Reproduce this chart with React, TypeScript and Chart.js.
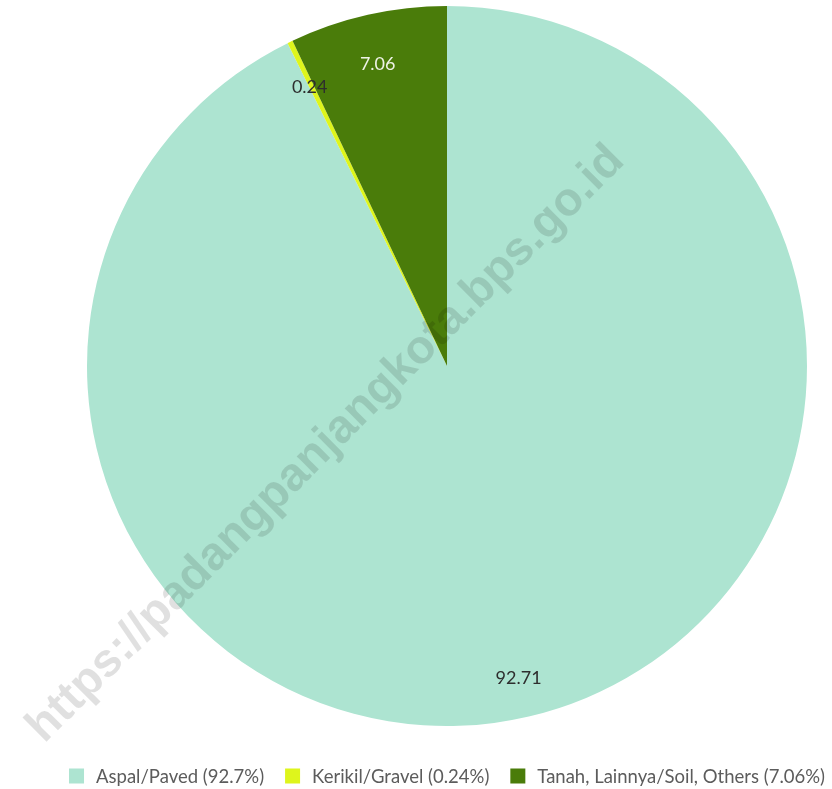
import React, { useEffect, useRef } from "react";
import { Chart, registerables } from "chart.js";

Chart.register(...registerables);

const categories = ["Aspal/Paved", "Kerikil/Gravel", "Tanah, Lainnya/Soil, Others"];
const values = [92.71, 0.24, 7.06];
const legendPercents = ["92.7%", "0.24%", "7.06%"];
const colors = ["#ade4d1", "#def51c", "#4a7c0a"];
const labelColors = ["#2e2e2e", "#2e2e2e", "#eef3e6"];
const watermarkText = "https://padangpanjangkota.bps.go.id";

const dataLabelPlugin = {
  id: "dataLabels",
  afterDatasetsDraw(chart: any) {
    const ctx = chart.ctx;
    const meta = chart.getDatasetMeta(0);
    ctx.save();
    ctx.font = "18px Lato";
    ctx.textAlign = "center";
    ctx.textBaseline = "middle";
    meta.data.forEach((arc: any, i: number) => {
      const mid = (arc.startAngle + arc.endAngle) / 2;
      const d = arc.outerRadius - 45;
      const x = arc.x + Math.cos(mid) * d;
      const y = arc.y + Math.sin(mid) * d + 5;
      ctx.fillStyle = labelColors[i];
      ctx.fillText(String(values[i]), x, y);
    });
    ctx.restore();
  },
};

const legendPlugin = {
  id: "customLegend",
  afterDraw(chart: any) {
    const ctx = chart.ctx;
    ctx.save();
    ctx.font = "18.5px Lato";
    ctx.textBaseline = "middle";
    const box = 15;
    const gapBox = 12;
    const gapItem = 21;
    const texts = categories.map((c, i) => `${c} (${legendPercents[i]})`);
    const widths = texts.map((t) => ctx.measureText(t).width);
    const total = widths.reduce((a, w) => a + box + gapBox + w, 0) + gapItem * (texts.length - 1);
    let x = 447 - total / 2;
    const y = 776;
    texts.forEach((t, i) => {
      ctx.fillStyle = colors[i];
      ctx.fillRect(x, y - box / 2, box, box);
      x += box + gapBox;
      ctx.fillStyle = "#5c5c5c";
      ctx.fillText(t, x, y + 1);
      x += widths[i] + gapItem;
    });
    ctx.restore();
  },
};

const watermarkPlugin = {
  id: "watermark",
  afterDraw(chart: any) {
    const ctx = chart.ctx;
    ctx.save();
    ctx.translate(326, 444);
    ctx.rotate(-Math.PI / 4);
    ctx.font = "bold 47px 'Liberation Sans', Arial, sans-serif";
    ctx.textAlign = "center";
    ctx.textBaseline = "middle";
    ctx.fillStyle = "rgba(0,0,0,0.12)";
    ctx.fillText(watermarkText, 0, 0);
    ctx.restore();
  },
};

export default function App() {
  const ref = useRef<HTMLCanvasElement | null>(null);
  useEffect(() => {
    const prevMargin = document.body.style.margin;
    document.body.style.margin = "0";
    const chart = new Chart(ref.current as HTMLCanvasElement, {
      type: "pie",
      data: {
        labels: categories,
        datasets: [
          {
            data: values,
            backgroundColor: colors,
            borderWidth: 0,
            radius: 360,
          } as any,
        ],
      },
      options: {
        responsive: false,
        animation: false,
        devicePixelRatio: 1,
        layout: { padding: { left: 62, right: 0, top: 0, bottom: 57 } },
        plugins: {
          legend: { display: false },
          tooltip: { enabled: false },
        },
      },
      plugins: [dataLabelPlugin, watermarkPlugin, legendPlugin],
    });
    return () => {
      chart.destroy();
      document.body.style.margin = prevMargin;
    };
  }, []);
  return (
    <div style={{ position: "absolute", left: 0, top: 0, width: 832, height: 789, background: "#fff" }}>
      <canvas ref={ref} width={832} height={789} style={{ width: 832, height: 789, display: "block" }} />
    </div>
  );
}
